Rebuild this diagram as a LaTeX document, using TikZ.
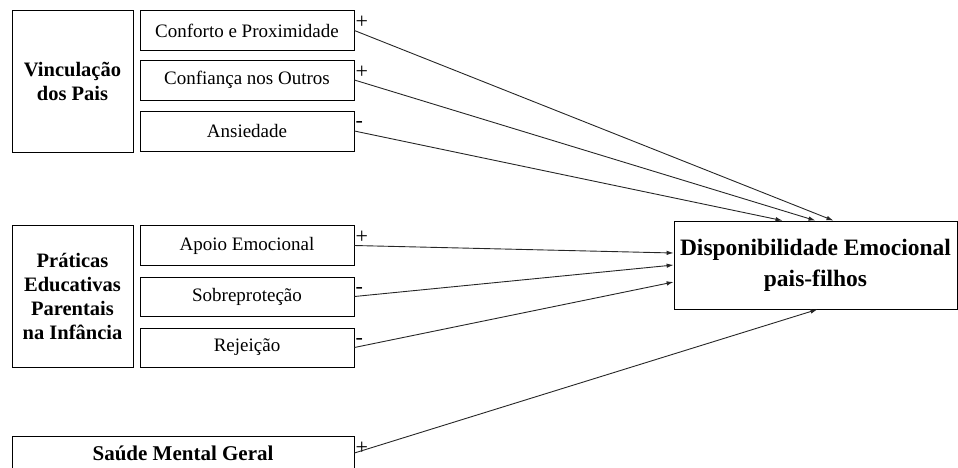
\documentclass[tikz,border=0pt]{standalone}
\usepackage{fontspec}
\setmainfont{Liberation Serif}
\usetikzlibrary{arrows.meta}

\tikzset{
	groupbox/.style={draw, line width=0.8pt, align=center, font=\fontsize{20.5}{24}\selectfont\bfseries, minimum width=121pt, minimum height=142pt, inner sep=0pt},
	itembox/.style={draw, line width=0.8pt, font=\fontsize{19}{20}\selectfont, minimum width=214pt, minimum height=40pt, inner sep=0pt},
	sign/.style={anchor=base west, font=\fontsize{22}{22}\selectfont, inner sep=0pt, xshift=1pt},
	effect/.style={line width=0.9pt, draw=black!85, -{Latex[length=7pt,width=4.5pt]}}
}

\begin{document}
\begin{tikzpicture}[x=1pt, y=-1pt]
	\useasboundingbox (0,0) rectangle (958,467);

	% draw group boxes
	\node[groupbox] (vinc) at (72.5,81) {Vinculação\\dos Pais};
	\node[groupbox] (prat) at (72.5,296) {Práticas\\Educativas\\Parentais\\na Infância};
	\node[groupbox, font=\fontsize{21}{24}\selectfont\bfseries, minimum width=342pt, minimum height=34pt] (saude) at (183,453) {Saúde Mental Geral};

	% draw item boxes
	\node[itembox] (conf) at (247,30.5) {Conforto e Proximidade};
	\node[itembox] (confi) at (247,80) {Confiança nos Outros};
	\node[itembox] (ansi) at (247,131) {Ansiedade};
	\node[itembox] (apoio) at (247,245.5) {Apoio Emocional};
	\node[itembox, minimum height=39pt] (sobre) at (247,296.5) {Sobreproteção};
	\node[itembox, minimum height=39pt] (rejei) at (247,347.5) {Rejeição};

	% draw outcome box
	\node[draw, line width=0.8pt, align=center, font=\fontsize{23.5}{31}\selectfont\bfseries, minimum width=283pt, minimum height=88pt, inner sep=0pt] (disp) at (815.5,265) {Disponibilidade Emocional\\pais-filhos};

	% draw signs
	\node[sign] at ([yshift=-18.5pt]conf.north east) {+};
	\node[sign] at ([yshift=-18.5pt]confi.north east) {+};
	\node[sign] at ([yshift=-16.5pt]ansi.north east) {-};
	\node[sign] at ([yshift=-18.5pt]apoio.north east) {+};
	\node[sign] at ([yshift=-16.5pt]sobre.north east) {-};
	\node[sign] at ([yshift=-16.5pt]rejei.north east) {-};
	\node[sign] at ([yshift=-18.5pt]saude.north east) {+};

	% draw arrows
	\draw[effect] (conf.east) -- ([xshift=18pt]disp.north);
	\draw[effect] (confi.east) -- (disp.north);
	\draw[effect] (ansi.east) -- ([xshift=-33pt]disp.north);
	\draw[effect] (apoio.east) -- ([yshift=12pt]disp.west);
	\draw[effect] (sobre.east) -- (disp.west);
	\draw[effect] (rejei.east) -- ([yshift=-17pt]disp.west);
	\draw[effect] (saude.east) -- ([xshift=2pt]disp.south);
\end{tikzpicture}
\end{document}
